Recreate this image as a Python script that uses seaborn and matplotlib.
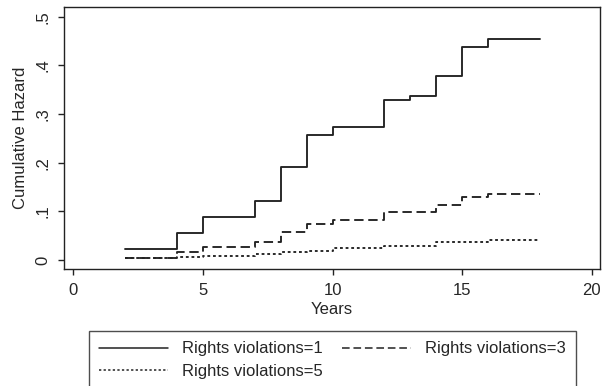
import pandas as pd
import matplotlib
matplotlib.use("Agg")
import matplotlib.pyplot as plt
import seaborn as sns
from matplotlib.lines import Line2D

# step times (years) and cumulative hazard
years = [2, 4, 5, 7, 8, 9, 10, 12, 13, 14, 15, 16, 18]
haz_rv1 = [0.022, 0.055, 0.089, 0.122, 0.192, 0.257, 0.273, 0.328, 0.337, 0.379, 0.438, 0.454, 0.454]
haz_rv3 = [0.005, 0.016, 0.027, 0.036, 0.057, 0.075, 0.082, 0.099, 0.099, 0.114, 0.130, 0.136, 0.136]
haz_rv5 = [0.004, 0.006, 0.008, 0.012, 0.016, 0.018, 0.024, 0.029, 0.029, 0.036, 0.038, 0.041, 0.041]
groups = ["Rights violations=1", "Rights violations=3", "Rights violations=5"]

data = pd.concat([
    pd.DataFrame({"Years": years, "haz": h, "group": g})
    for g, h in zip(groups, [haz_rv1, haz_rv3, haz_rv5])
], ignore_index=True)

sns.set_style("white")
plt.rcParams["font.family"] = ["Liberation Sans", "DejaVu Sans"]

fig = plt.figure(figsize=(6.05, 3.86), dpi=100)
ax = fig.add_axes([64 / 605, 1 - 269 / 386, (600 - 64) / 605, (269 - 7) / 386])

dash_map = {groups[0]: "", groups[1]: (5, 2.5), groups[2]: (1.5, 1.5)}
sns.lineplot(data=data, x="Years", y="haz", style="group", dashes=dash_map,
             color="#222222", linewidth=1.35, drawstyle="steps-post",
             legend=False, ax=ax, estimator=None)

ax.set_xlim(-0.36, 20.32)
ax.set_ylim(-0.0185, 0.52)
ax.set_xticks([0, 5, 10, 15, 20])
ax.set_yticks([0, 0.1, 0.2, 0.3, 0.4, 0.5])
ax.set_yticklabels(["0", ".1", ".2", ".3", ".4", ".5"], rotation=90, va="center")
ax.tick_params(axis="both", direction="out", length=4.5, width=1, color="#222222",
               labelsize=12, left=True, bottom=True, pad=5.5)
ax.set_xlabel("Years", fontsize=12, labelpad=3)
ax.set_ylabel("Cumulative Hazard", fontsize=12, labelpad=5)
for s in ax.spines.values():
    s.set_color("#222222")
    s.set_linewidth(1)

handles = []
for d in dash_map.values():
    ln = Line2D([], [], color="#222222", lw=1.1)
    if d != "":
        ln.set_dashes(d)
    handles.append(ln)
# legend fills column-wise: put =1 and =5 in the first column, =3 in the second
order = [0, 2, 1]
leg = fig.legend([handles[i] for i in order], [groups[i] for i in order],
                 ncol=2, loc="upper left",
                 bbox_to_anchor=(89 / 605, 1 - 331 / 386, (576 - 89) / 605, 0),
                 bbox_transform=fig.transFigure, mode="expand", borderaxespad=0,
                 fontsize=12, handlelength=4.1, handletextpad=0.85,
                 frameon=True, fancybox=False, borderpad=0.62, labelspacing=0.45)
leg.get_frame().set_edgecolor("#222222")
leg.get_frame().set_linewidth(1)

fig.savefig("out.png", dpi=100)
